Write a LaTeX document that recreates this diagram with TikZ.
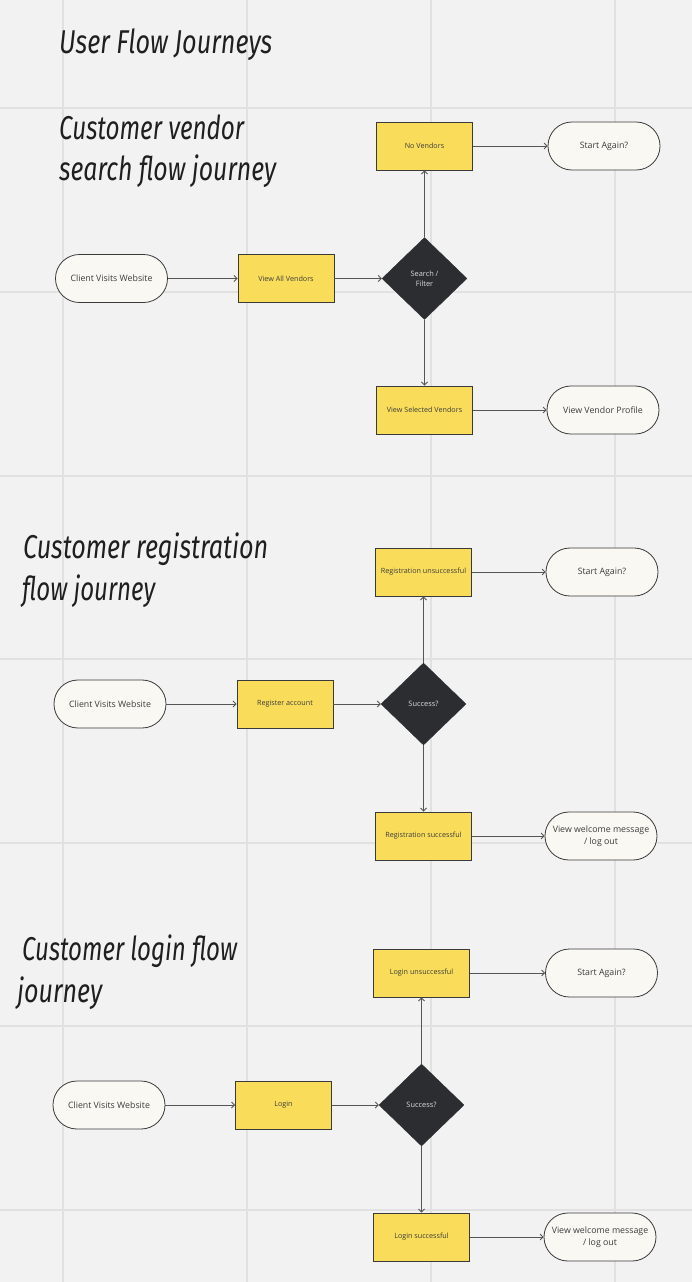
\documentclass[tikz,border=0pt]{standalone}
\usepackage{fontspec}
\usepackage{graphicx}
\newfontfamily\uifont{Open Sans}
\newfontfamily\handfont{Fira Sans}
\usetikzlibrary{shapes.geometric,arrows.meta}
\definecolor{bg}{HTML}{F2F2F2}
\definecolor{gridc}{HTML}{E1E1E1}
\definecolor{ylw}{HTML}{F9DD5A}
\definecolor{pillfill}{HTML}{FAF8F3}
\definecolor{dia}{HTML}{2C2D31}
\definecolor{edge}{HTML}{3A3A3A}
\definecolor{txt}{HTML}{3C3C3C}
\definecolor{link}{HTML}{555555}
\begin{document}
\begin{tikzpicture}[x=1pt,y=-1pt,
 pill/.style={draw=edge, line width=0.8pt, fill=pillfill, rounded corners=23.9pt, minimum width=112pt, minimum height=48pt, inner sep=0pt, align=center, font=\uifont\fontsize{8.8}{12}\selectfont, text=txt},
 stepbox/.style={draw=edge, line width=0.9pt, fill=ylw, minimum width=96pt, minimum height=48pt, inner sep=0pt, align=center, font=\uifont\fontsize{7.2}{9}\selectfont, text=txt},
 decision/.style={diamond, fill=dia, draw=dia, minimum width=85pt, minimum height=82pt, inner sep=0pt, align=center, font=\uifont\fontsize{7.4}{10}\selectfont, text=white!85!black},
 flow/.style={draw=link, line width=0.8pt, -{Straight Barb[length=3pt,width=6pt]}},
 title/.style={anchor=base west, inner sep=0pt, font=\handfont\itshape\fontsize{33}{33}\selectfont, text=black!88}
]
\useasboundingbox (0,0) rectangle (692,1282);
\fill[bg] (0,0) rectangle (692,1282);
\foreach \gx in {63,247,431,615} \draw[gridc, line width=2pt] (\gx,0) -- (\gx,1282);
\foreach \gy in {108,292,476,659,843,1026,1210} \draw[gridc, line width=2pt] (0,\gy) -- (692,\gy);

% titles
\node[title] (t1a) at (59,53) {\resizebox{213pt}{\height}{User Flow Journeys}};
\node[title] (t1b) at (59,139) {\resizebox{185pt}{\height}{Customer vendor}};
\node[title] (t1c) at (59,180) {\resizebox{217pt}{\height}{search flow journey}};
\node[title] (t2a) at (23,558) {\resizebox{245pt}{\height}{Customer registration}};
\node[title] (t2b) at (22,600) {\resizebox{133pt}{\height}{flow journey}};
\node[title] (t3a) at (22,960) {\resizebox{215pt}{\height}{Customer login flow}};
\node[title] (t3b) at (17,1002) {\resizebox{85pt}{\height}{journey}};

% section 1
\node[pill] (c1) at (111.5,278.5) {Client Visits Website};
\node[stepbox] (a1) at (286,278.5) {View All Vendors};
\node[decision] (d1) at (424.5,278.5) {Search /\\Filter};
\node[stepbox] (nv) at (424.5,146) {No Vendors};
\node[pill] (sa1) at (604,146) {Start Again?};
\node[stepbox] (vs) at (424.5,410) {View Selected Vendors};
\node[pill] (vp) at (603,410) {View Vendor Profile};
\draw[flow] (c1) -- (a1);
\draw[flow] (a1) -- (d1);
\draw[flow] (d1) -- (nv);
\draw[flow] (d1) -- (vs);
\draw[flow] (nv) -- (sa1);
\draw[flow] (vs) -- (vp);

% section 2
\node[pill] (c2) at (110,704) {Client Visits Website};
\node[stepbox] (a2) at (285,704) {Register account};
\node[decision] (d2) at (423.5,704) {Success?};
\node[stepbox] (ru) at (423.5,572) {Registration unsuccessful};
\node[pill] (sa2) at (602,572) {Start Again?};
\node[stepbox] (rs) at (423.5,836) {Registration successful};
\node[pill] (vw2) at (601,836) {View welcome message\\/ log out};
\draw[flow] (c2) -- (a2);
\draw[flow] (a2) -- (d2);
\draw[flow] (d2) -- (ru);
\draw[flow] (d2) -- (rs);
\draw[flow] (ru) -- (sa2);
\draw[flow] (rs) -- (vw2);

% section 3
\node[pill] (c3) at (109,1105) {Client Visits Website};
\node[stepbox] (a3) at (283.5,1105) {Login};
\node[decision] (d3) at (421.5,1105) {Success?};
\node[stepbox] (lu) at (421.5,973) {Login unsuccessful};
\node[pill] (sa3) at (601.5,973) {Start Again?};
\node[stepbox] (ls) at (421.5,1237) {Login successful};
\node[pill] (vw3) at (600,1237) {View welcome message\\/ log out};
\draw[flow] (c3) -- (a3);
\draw[flow] (a3) -- (d3);
\draw[flow] (d3) -- (lu);
\draw[flow] (d3) -- (ls);
\draw[flow] (lu) -- (sa3);
\draw[flow] (ls) -- (vw3);
\end{tikzpicture}
\end{document}
